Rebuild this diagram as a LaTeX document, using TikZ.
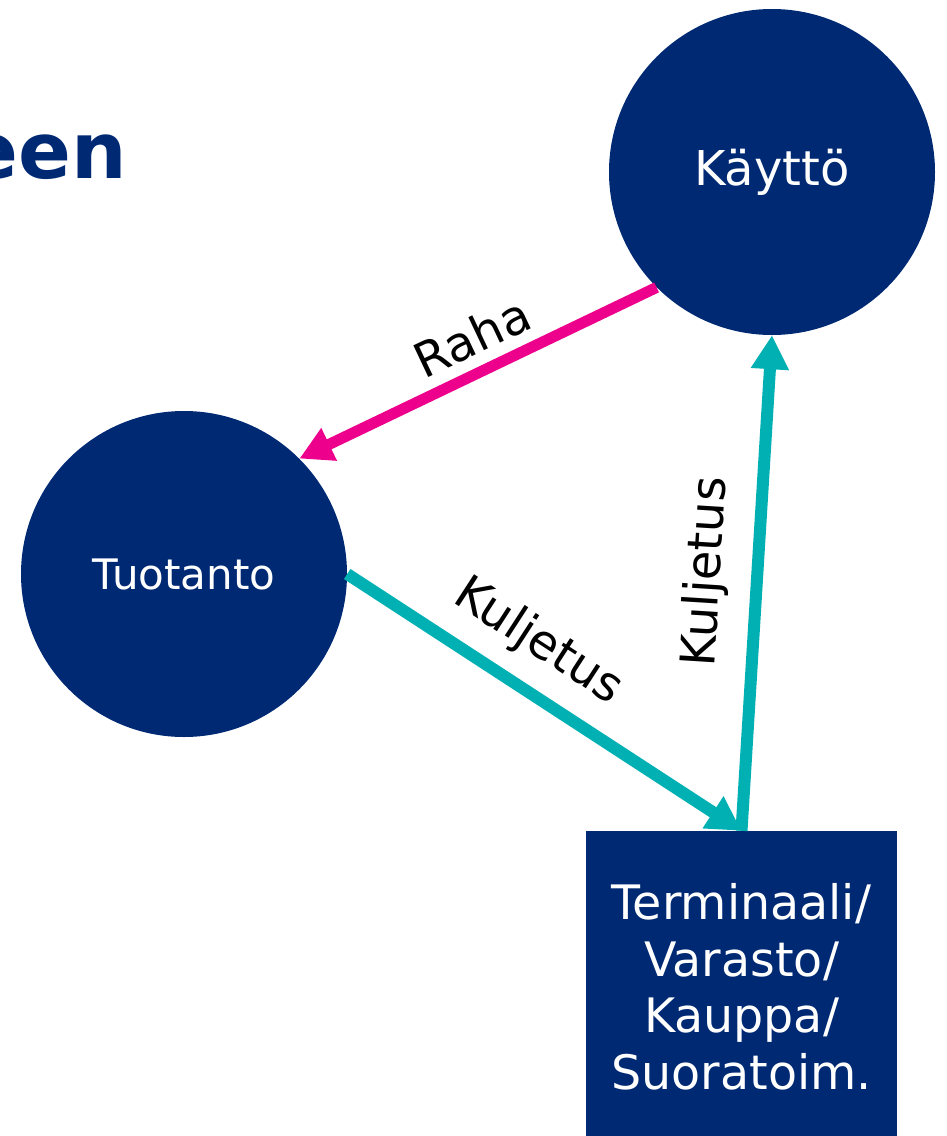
\documentclass[tikz,border=0pt]{standalone}
\usepackage{fontspec}
\setmainfont{DejaVu Sans}
\usetikzlibrary{arrows.meta}
\definecolor{navy}{RGB}{0,41,116}
\definecolor{rahapink}{RGB}{236,0,140}
\definecolor{flowteal}{RGB}{0,176,178}
\begin{document}
\begin{tikzpicture}[x=1pt,y=-1pt,
  circ/.style={circle, fill=navy, text=white, minimum size=326pt, inner sep=0pt},
  box/.style={rectangle, fill=navy, text=white, minimum width=311pt, minimum height=312pt, align=center, inner sep=0pt},
  flow/.style={line width=12pt, color=flowteal, -{Triangle[length=34pt,width=36pt]}},
  money/.style={line width=11pt, color=rahapink, -{Triangle[length=33pt,width=34pt]}},
  lbl/.style={text=black, font=\fontsize{48}{56}\selectfont, inner sep=0pt}]
\useasboundingbox (0,0) rectangle (946,1136);
\clip (0,0) rectangle (946,1136);
\node[font=\bfseries\fontsize{78}{90}\selectfont, text=navy, anchor=base east, inner sep=0pt] (title) at (127,178) {een};
\node[circ, font=\fontsize{48}{56}\selectfont] (kaytto) at (772,172) {Käyttö};
\node[circ, font=\fontsize{42}{50}\selectfont] (tuotanto) at (184,574) {Tuotanto};
\node[box, font=\fontsize{47.5}{56.5}\selectfont] (term) at (741.5,987) {Terminaali/\\Varasto/\\Kauppa/\\Suoratoim.};
\draw[money] (kaytto.225) -- (tuotanto.45);
\draw[flow] (tuotanto.east) -- (term.north);
\draw[flow] (term.north) -- (kaytto.south);
\node[lbl, rotate=25.3] (lraha) at (472,337) {Raha};
\node[lbl, rotate=-33] (lk1) at (538,642) {Kuljetus};
\node[lbl, rotate=86.4] (lk2) at (707,572) {Kuljetus};
\end{tikzpicture}
\end{document}
